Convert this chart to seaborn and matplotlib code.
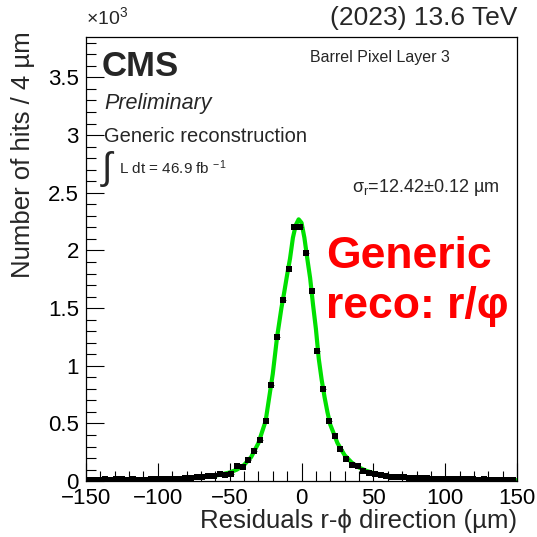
import numpy as np
import pandas as pd
import matplotlib
matplotlib.use("Agg")
import matplotlib.pyplot as plt
from matplotlib.ticker import MultipleLocator, FuncFormatter
import seaborn as sns

# residual histogram, bin centers (um) and counts (x 10^3)
bin_centers = list(range(-149, 148, 4))
hits = [
    0.012, 0.014, 0.013, 0.015, 0.014, 0.016, 0.015, 0.014, 0.016, 0.012,
    0.013, 0.016, 0.018, 0.017, 0.019, 0.021, 0.022, 0.026, 0.030, 0.036,
    0.038, 0.048, 0.045, 0.063, 0.057, 0.065, 0.130, 0.120, 0.180, 0.260,
    0.360, 0.520, 0.830, 1.250, 1.570, 1.840, 2.200, 2.205,
    1.980, 1.645, 1.130, 0.800, 0.525, 0.390, 0.275, 0.190, 0.143, 0.135,
    0.090, 0.070, 0.060, 0.054, 0.045, 0.040, 0.037, 0.032, 0.030, 0.028,
    0.025, 0.024, 0.022, 0.020, 0.019, 0.020, 0.017, 0.016, 0.015, 0.016,
    0.014, 0.015, 0.013, 0.014, 0.012, 0.013, 0.012,
]

# fit curve
fit_x = [-150, -130, -110, -90, -80, -70, -60, -50, -45, -40, -35, -30, -25,
         -20, -17, -14, -12, -10, -8, -6, -4, -2, 0, 2, 4, 6, 8, 10, 12, 14,
         16, 18, 20, 25, 30, 35, 40, 45, 50, 60, 70, 80, 90, 110, 130, 150]
fit_y = [0.008, 0.010, 0.013, 0.018, 0.024, 0.033, 0.047, 0.075, 0.100, 0.140,
         0.210, 0.330, 0.520, 0.930, 1.250, 1.500, 1.640, 1.790, 1.930, 2.110,
         2.220, 2.270, 2.240, 2.110, 1.930, 1.760, 1.530, 1.320, 1.060, 0.880,
         0.730, 0.600, 0.490, 0.330, 0.225, 0.160, 0.118, 0.090, 0.070, 0.046,
         0.034, 0.025, 0.019, 0.013, 0.010, 0.008]

sns.set_style("ticks")
plt.rcParams['font.family'] = ['Liberation Sans', 'DejaVu Sans']
plt.rcParams['mathtext.fontset'] = 'custom'
plt.rcParams['mathtext.rm'] = 'Liberation Sans'
plt.rcParams['mathtext.it'] = 'Liberation Sans:italic'
plt.rcParams['mathtext.default'] = 'regular'

df = pd.DataFrame({'x': bin_centers, 'hits': hits})
df_fit = pd.DataFrame({'x': fit_x, 'y': fit_y})

fig = plt.figure(figsize=(5.37, 5.37), dpi=100)
ax = fig.add_axes([0.160, 0.104, 0.803, 0.827])

sns.lineplot(data=df_fit, x='x', y='y', color='#00e000', lw=3, ax=ax, zorder=2)
ax.errorbar(df['x'], df['hits'], xerr=2, fmt='none', ecolor='black', elinewidth=0.5, zorder=3)
sns.scatterplot(data=df, x='x', y='hits', marker='s', color='black', s=14,
                edgecolor='black', linewidth=0, ax=ax, zorder=4)

minus_fmt = FuncFormatter(lambda v, p: f"{v:g}".replace('-', '\u2212'))
ax.set_xlim(-150, 150)
ax.set_ylim(0, 3.85)
ax.xaxis.set_major_locator(MultipleLocator(50))
ax.xaxis.set_minor_locator(MultipleLocator(10))
ax.yaxis.set_major_locator(MultipleLocator(0.5))
ax.yaxis.set_minor_locator(MultipleLocator(0.1))
ax.yaxis.set_major_formatter(minus_fmt)
ax.xaxis.set_major_formatter(minus_fmt)
ax.tick_params(which='both', direction='in', labelsize=16, width=0.8, colors='black')
ax.tick_params(which='major', length=13, pad=5)
ax.tick_params(which='minor', length=7)
for s in ax.spines.values():
    s.set_visible(True)
    s.set_linewidth(0.9)
    s.set_color('black')

ax.set_xlabel("Residuals r-ϕ direction (µm)", fontsize=18.5, loc='right', labelpad=0)
ax.set_ylabel("Number of hits / 4 µm", fontsize=18.5, ha='right')
ax.yaxis.set_label_coords(-0.118, 1.012)

fig.text(0.160, 0.968, r"×10$^{3}$", fontsize=14, ha='left', va='center')
fig.text(0.963, 0.966, "(2023) 13.6 TeV", fontsize=19, ha='right', va='center')
fig.text(0.190, 0.877, "CMS", fontsize=25, fontweight='bold', ha='left', va='center')
fig.text(0.195, 0.808, "Preliminary", fontsize=15.5, style='italic', ha='left', va='center')
fig.text(0.193, 0.746, "Generic reconstruction", fontsize=14.5, ha='left', va='center')
fig.text(0.189, 0.686, "∫", fontsize=27, ha='left', va='center')
fig.text(0.222, 0.688, r"L dt = 46.9 fb $^{-1}$", fontsize=11, ha='left', va='center')
fig.text(0.578, 0.892, "Barrel Pixel Layer 3", fontsize=11.5, ha='left', va='center')
fig.text(0.655, 0.650, r"$\sigma_{r}$=12.42±0.12 µm", fontsize=13, ha='left', va='center')
fig.text(0.608, 0.476, "Generic\nreco: r/φ", fontsize=32, fontweight='bold', color='#ff0000',
         ha='left', va='center', linespacing=1.28)

fig.savefig("out.png", dpi=100)
